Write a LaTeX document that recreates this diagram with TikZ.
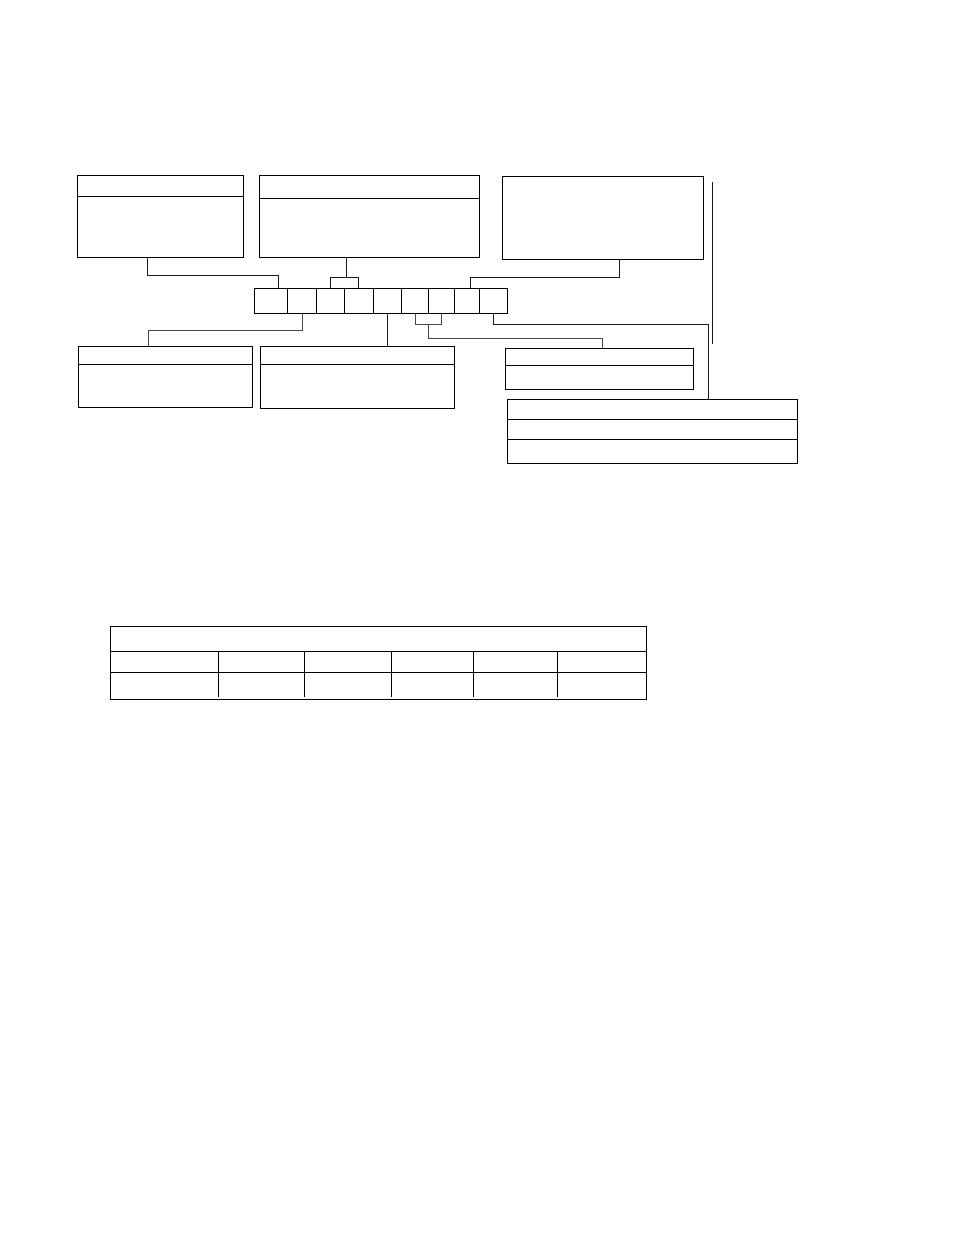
\documentclass[tikz,border=0pt]{standalone}
\usepackage{tikz}
\usetikzlibrary{positioning}

\tikzset{
  regbox/.style={draw, rectangle, anchor=north west, inner sep=0pt},
  cell/.style={draw, rectangle, inner sep=0pt, minimum height=25pt},
  link/.style={draw=black!90},
  greylink/.style={draw=black!72}
}

\begin{document}
\begin{tikzpicture}[x=1pt, y=-1pt, line width=1pt]
            \useasboundingbox (0,0) rectangle (954,1235);
            % Upper boxes
            \node[regbox, minimum width=165.4pt, minimum height=82pt] (regA) at (77.3,175.3) {};
            \node[regbox, minimum width=220.6pt, minimum height=82pt] (regB) at (258.7,175.3) {};
            \node[regbox, minimum width=200.4pt, minimum height=83.3pt] (regC) at (502.3,176) {};
            % Lower boxes
            \node[regbox, minimum width=173.4pt, minimum height=61pt] (regD) at (78.3,346.3) {};
            \node[regbox, minimum width=193.4pt, minimum height=62pt] (regE) at (260.3,346.3) {};
            \node[regbox, minimum width=187.4pt, minimum height=41pt] (regF) at (505.3,348.3) {};
            \node[regbox, minimum width=289.4pt, minimum height=64pt] (regG) at (507.3,399.3) {};
            % Table
            \node[regbox, minimum width=536pt, minimum height=73pt] (tbl) at (110.3,626.3) {};

            % Row of cells
            \foreach \n/\l/\r in {1/254.3/287.3, 2/287.3/316.7, 3/316.7/344.3, 4/344.3/373.3, 5/373.3/401.7,
                                  6/401.7/428.3, 7/428.3/454.3, 8/454.3/479.3, 9/479.3/507.3}
              \node[cell, minimum width={(\r-\l)*1pt}] (c\n) at ({(\l+\r)/2},300.8) {};

            % Dividers inside the boxes
            \foreach \b/\d in {regA/21, regB/23, regD/18, regE/18, regF/17, regG/20, regG/40, tbl/24.7, tbl/46}
              \draw ([yshift=-\d pt]\b.north west) -- ([yshift=-\d pt]\b.north east);
            \foreach \dx in {108,194,281,363,447}
              \draw ([xshift=\dx pt, yshift=-24.7pt]tbl.north west) -- ++(0,45.7);

            % Links from the upper boxes
            \draw[link] ([xshift=70pt]regA.south west) -- ++(0,17) -| ([xshift=8pt]c1.north);
            \draw[link] (c3.north) -- ++(0,-10) coordinate (bjoin) -| (c4.north);
            \coordinate (bdrop) at ([xshift=87.6pt]regB.south west);
            \draw[link] (bdrop) -- (bdrop |- bjoin);
            \draw[link] ([xshift=117pt]regC.south west) -- ++(0,17) -| ([xshift=3.5pt]c8.north);

            % Links to the lower boxes
            \draw[greylink] (c2.south) -- ++(0,17) -| ([xshift=69.7pt]regD.north west);
            \draw[link] (c5.south) -- (c5.south |- regE.north);
            \draw[greylink] (c6.south) -- ++(0,11) coordinate (fjoin) -| (c7.south);
            \coordinate (fmid) at ([xshift=13.5pt]fjoin);
            \draw[greylink] (fmid) -- ++(0,14) -| ([xshift=3.3pt]regF.north);
            \draw[link] (c9.south) -- ++(0,10.7) -| ([xshift=56.3pt]regG.north);

            % Free rail on the right
            \coordinate (railtop) at (712.3,182.3);
            \coordinate (railbot) at (712.3,344.3);
            \draw[link] (railtop) -- (railbot);
        \end{tikzpicture}
\end{document}
